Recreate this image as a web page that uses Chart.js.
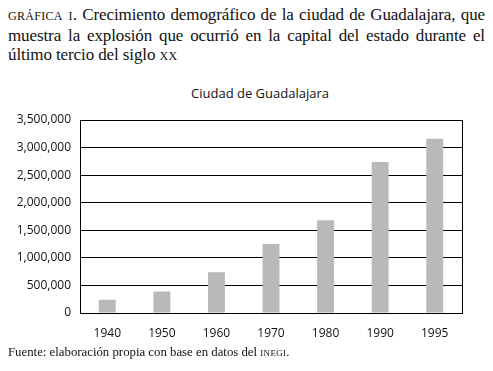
<!DOCTYPE html>
<html>
<head>
<meta charset="utf-8">
<script src="https://cdn.jsdelivr.net/npm/chart.js@4.4.0/dist/chart.umd.min.js"></script>
<style>
  body { margin: 0; background: #fff; }
  #wrap { position: relative; width: 493px; height: 371px; overflow: hidden; }
  #chart { position: absolute; left: 0; top: 0; }
  .cap { position: absolute; left: 8px; width: 477px; font-family: "Liberation Serif", serif; font-size: 17px; color: #111; line-height: 20px; white-space: nowrap; letter-spacing: -0.1px; }
  .just { text-align: justify; text-align-last: justify; white-space: normal; }
  .sc { font-variant: small-caps; text-transform: lowercase; letter-spacing: 0.3px; }
  #title { position: absolute; left: 0; width: 520px; top: 84px; text-align: center; font-family: "Open Sans", sans-serif; font-size: 13px; color: #111; }
  #source { position: absolute; left: 8px; top: 345px; font-family: "Liberation Serif", serif; font-size: 12.8px; color: #111; }
</style>
</head>
<body>
<div id="wrap">
  <div class="cap just" style="top:5px"><span class="sc">Gráfica I</span>. Crecimiento demográfico de la ciudad de Guadalajara, que</div>
  <div class="cap just" style="top:26px">muestra la explosión que ocurrió en la capital del estado durante el</div>
  <div class="cap" style="top:45px">último tercio del siglo <span class="sc">xx</span></div>
  <div id="title">Ciudad de Guadalajara</div>
  <canvas id="chart" width="493" height="371"></canvas>
  <div id="source">Fuente: elaboración propia con base en datos del <span class="sc">inegi</span>.</div>
</div>
<script>
const years = ["1940", "1950", "1960", "1970", "1980", "1990", "1995"];
const population = [240000, 390000, 740000, 1250000, 1680000, 2740000, 3160000];

const frame = {
  id: "frame",
  afterDraw(chart) {
    const { ctx, chartArea } = chart;
    ctx.save();
    ctx.strokeStyle = "#000";
    ctx.lineWidth = 1;
    ctx.strokeRect(Math.round(chartArea.left) + 0.5, Math.round(chartArea.top) + 0.5,
      Math.round(chartArea.right - chartArea.left), Math.round(chartArea.bottom - chartArea.top));
    ctx.restore();
  }
};

new Chart(document.getElementById("chart"), {
  type: "bar",
  data: {
    labels: years,
    datasets: [{
      data: population,
      backgroundColor: "#b9b9b9",
      barPercentage: 0.31,
      categoryPercentage: 1
    }]
  },
  options: {
    responsive: false,
    animation: false,
    layout: { padding: { top: 120, right: 31, bottom: 0, left: 0 } },
    plugins: {
      legend: { display: false },
      tooltip: { enabled: false }
    },
    scales: {
      x: {
        afterFit: scale => { scale.height = 58; },
        grid: { display: false },
        border: { display: true, color: "#000", width: 1 },
        ticks: { color: "#111", padding: 5, font: { family: "Open Sans", size: 12 } }
      },
      y: {
        min: 0,
        max: 3500000,
        afterFit: scale => { scale.width = 80; },
        grid: { color: "#000", lineWidth: 1, drawTicks: false },
        border: { display: true, color: "#000", width: 1 },
        ticks: {
          stepSize: 500000,
          color: "#111",
          padding: 9,
          font: { family: "Open Sans", size: 12 },
          callback: v => v.toLocaleString("en-US")
        }
      }
    }
  },
  plugins: [frame]
});
</script>
</body>
</html>
